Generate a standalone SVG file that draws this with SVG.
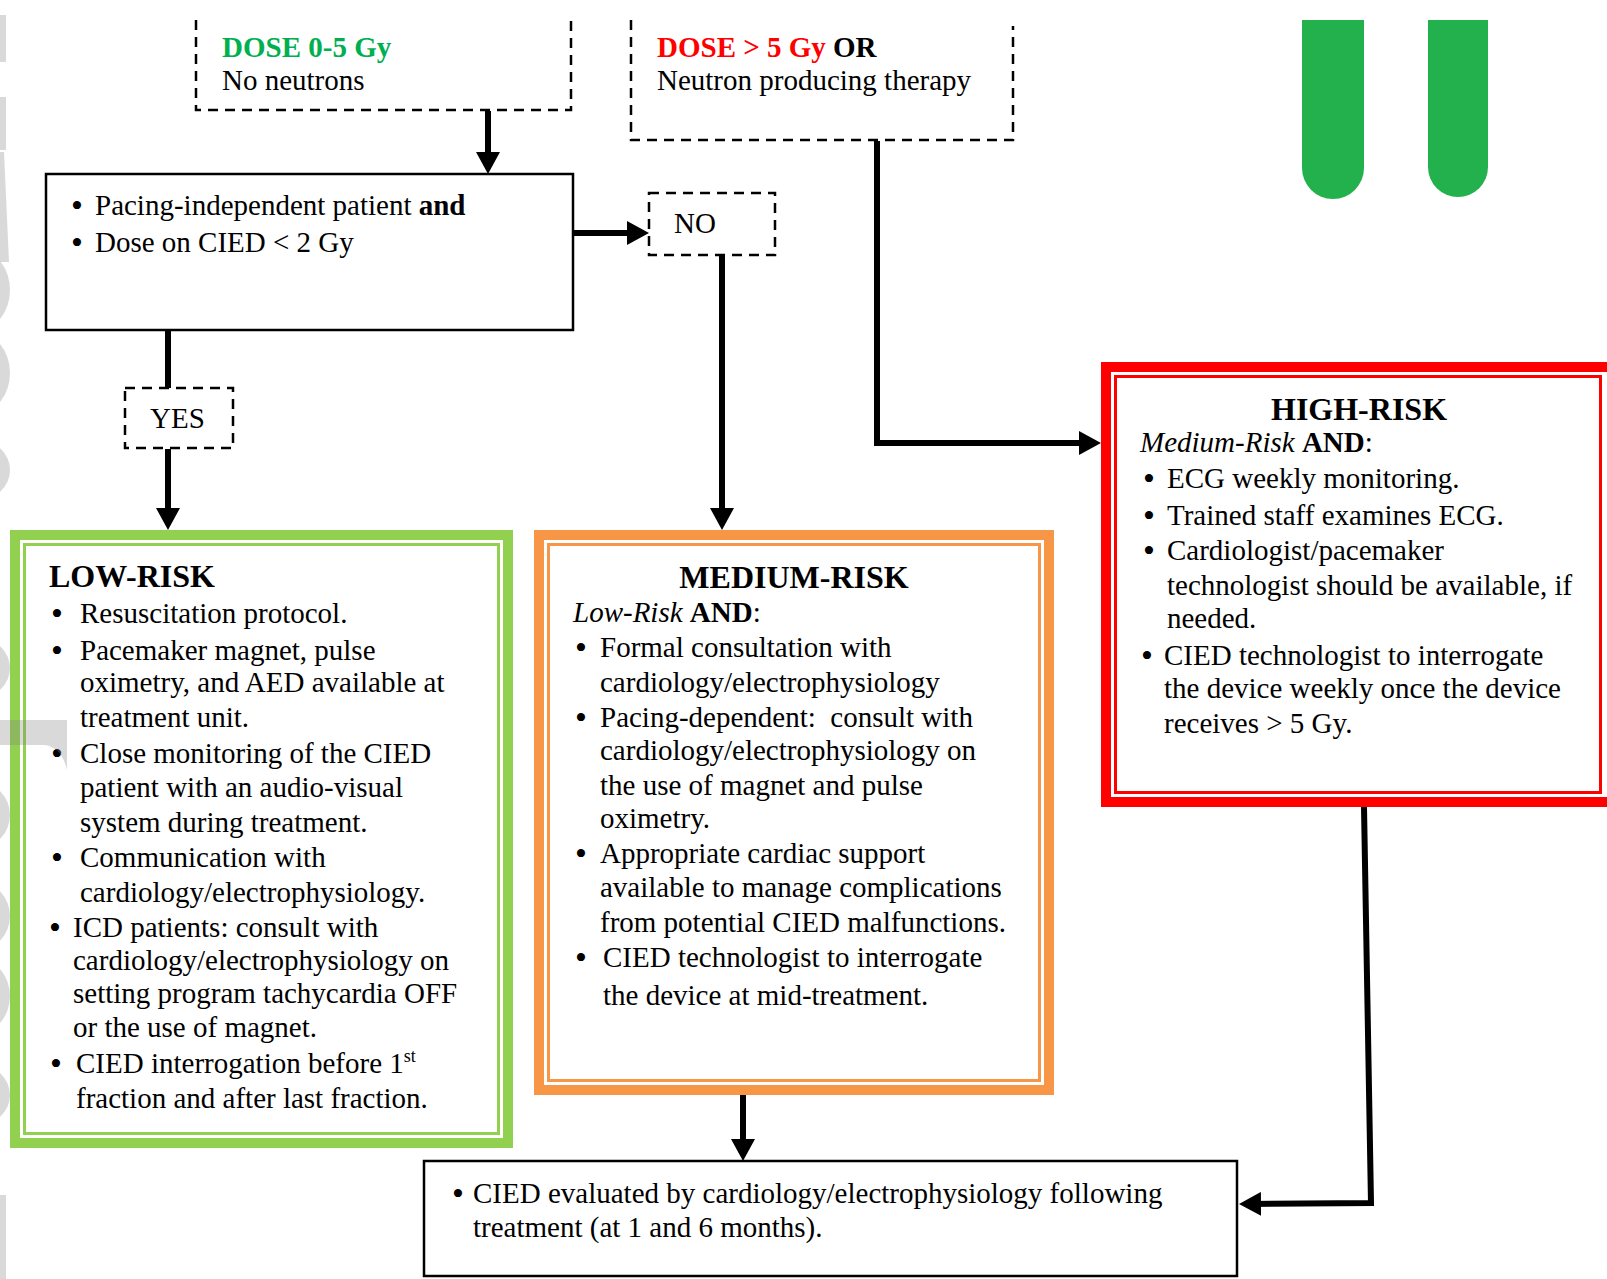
<svg xmlns="http://www.w3.org/2000/svg" width="1607" height="1279" viewBox="0 0 1607 1279">
<style>
.t{font-family:"Liberation Serif","Times New Roman",serif;font-size:29px;fill:#000}
.h{font-weight:bold;font-size:32px}
.b{font-weight:bold}
.i{font-style:italic}
.bu{font-size:34px}
.dash{fill:#fff;stroke:#000;stroke-width:2.5;stroke-dasharray:10 7}
.box{fill:#fff;stroke:#000;stroke-width:2.5}
.conn{fill:none;stroke:#000;stroke-width:6;stroke-linejoin:miter}
.wm{fill:#808080;fill-opacity:0.3}
</style>
<defs>
<marker id="ah" viewBox="0 0 22 24" markerWidth="22" markerHeight="24" markerUnits="userSpaceOnUse" refX="12" refY="12" orient="auto">
<path d="M0,0 L22,12 L0,24 Z" fill="#000"/>
</marker>
</defs>
<rect x="0" y="0" width="1607" height="1279" fill="#fff"/>

<g id="logo">
<path d="M1302,20 H1364 V168 A31,31 0 0 1 1302,168 Z" fill="#22b14c"/>
<path d="M1428,20 H1488 V167 A30,30 0 0 1 1428,167 Z" fill="#22b14c"/>
</g>

<g id="dose-low">
<path class="dash" d="M196,20 V110 H571 V20"/>
<text class="t b" x="222" y="57" style="fill:#00b050">DOSE 0-5 Gy</text>
<text class="t" x="222" y="90">No neutrons</text>
</g>

<g id="dose-high">
<path class="dash" d="M631,20 V140 H1013 V26"/>
<text class="t b" x="657" y="57"><tspan style="fill:#ff0000">DOSE &gt; 5 Gy</tspan> OR</text>
<text class="t" x="657" y="90">Neutron producing therapy</text>
</g>

<g id="criteria">
<rect class="box" x="46" y="174" width="527" height="156"/>
<text class="t bu" x="71" y="217">•</text>
<text class="t" x="95" y="215">Pacing-independent patient <tspan class="b">and</tspan></text>
<text class="t bu" x="71" y="254">•</text>
<text class="t" x="95" y="252">Dose on CIED &lt; 2 Gy</text>
</g>

<g id="no">
<rect class="dash" x="649" y="193" width="126" height="62"/>
<text class="t" x="674" y="233">NO</text>
</g>

<g id="yes">
<rect class="dash" x="125" y="388" width="108" height="60"/>
<text class="t" x="150" y="428">YES</text>
</g>

<g id="low-risk">
<rect x="15" y="535" width="493" height="608" fill="#fff" stroke="#92d050" stroke-width="10"/>
<rect x="24.5" y="544.5" width="474" height="589" fill="none" stroke="#92d050" stroke-width="3"/>
<text class="t h" x="49" y="587">LOW-RISK</text>
<text class="t bu" x="51" y="625">•</text>
<text class="t" x="80" y="623">Resuscitation protocol.</text>
<text class="t bu" x="51" y="662">•</text>
<text class="t" x="80" y="660">Pacemaker magnet, pulse</text>
<text class="t" x="80" y="692">oximetry, and AED available at</text>
<text class="t" x="80" y="727">treatment unit.</text>
<text class="t bu" x="51" y="765">•</text>
<text class="t" x="80" y="763">Close monitoring of the CIED</text>
<text class="t" x="80" y="797">patient with an audio-visual</text>
<text class="t" x="80" y="832">system during treatment.</text>
<text class="t bu" x="51" y="869">•</text>
<text class="t" x="80" y="867">Communication with</text>
<text class="t" x="80" y="902">cardiology/electrophysiology.</text>
<text class="t bu" x="49" y="939">•</text>
<text class="t" x="73" y="937">ICD patients: consult with</text>
<text class="t" x="73" y="970">cardiology/electrophysiology on</text>
<text class="t" x="73" y="1003">setting program tachycardia OFF</text>
<text class="t" x="73" y="1037">or the use of magnet.</text>
<text class="t bu" x="50" y="1075">•</text>
<text class="t" x="76" y="1073">CIED interrogation before 1<tspan font-size="18" dy="-11">st</tspan></text>
<text class="t" x="76" y="1108">fraction and after last fraction.</text>
</g>

<g id="medium-risk">
<rect x="539" y="535" width="510" height="555" fill="#fff" stroke="#f79646" stroke-width="10"/>
<rect x="548.5" y="544.5" width="491" height="536" fill="none" stroke="#f79646" stroke-width="3"/>
<text class="t h" x="794" y="588" text-anchor="middle">MEDIUM-RISK</text>
<text class="t" x="573" y="622"><tspan class="i">Low-Risk</tspan> <tspan class="b">AND</tspan>:</text>
<text class="t bu" x="575" y="659">•</text>
<text class="t" x="600" y="657">Formal consultation with</text>
<text class="t" x="600" y="692">cardiology/electrophysiology</text>
<text class="t bu" x="575" y="729">•</text>
<text class="t" x="600" y="727">Pacing-dependent:&#160; consult with</text>
<text class="t" x="600" y="760">cardiology/electrophysiology on</text>
<text class="t" x="600" y="795">the use of magnet and pulse</text>
<text class="t" x="600" y="828">oximetry.</text>
<text class="t bu" x="575" y="865">•</text>
<text class="t" x="600" y="863">Appropriate cardiac support</text>
<text class="t" x="600" y="897">available to manage complications</text>
<text class="t" x="600" y="932">from potential CIED malfunctions.</text>
<text class="t bu" x="575" y="969">•</text>
<text class="t" x="603" y="967">CIED technologist to interrogate</text>
<text class="t" x="603" y="1005">the device at mid-treatment.</text>
</g>

<g id="high-risk">
<rect x="1106" y="367" width="510" height="435" fill="#fff" stroke="#ff0000" stroke-width="10"/>
<rect x="1115.5" y="376.5" width="485" height="416" fill="none" stroke="#ff0000" stroke-width="3"/>
<text class="t h" x="1359" y="420" text-anchor="middle">HIGH-RISK</text>
<text class="t" x="1140" y="452"><tspan class="i">Medium-Risk</tspan> <tspan class="b">AND</tspan>:</text>
<text class="t bu" x="1143" y="490">•</text>
<text class="t" x="1167" y="488">ECG weekly monitoring.</text>
<text class="t bu" x="1143" y="527">•</text>
<text class="t" x="1167" y="525">Trained staff examines ECG.</text>
<text class="t bu" x="1143" y="562">•</text>
<text class="t" x="1167" y="560">Cardiologist/pacemaker</text>
<text class="t" x="1167" y="595">technologist should be available, if</text>
<text class="t" x="1167" y="628">needed.</text>
<text class="t bu" x="1141" y="667">•</text>
<text class="t" x="1164" y="665">CIED technologist to interrogate</text>
<text class="t" x="1164" y="698">the device weekly once the device</text>
<text class="t" x="1164" y="733">receives &gt; 5 Gy.</text>
</g>

<g id="follow-up">
<rect class="box" x="424" y="1161" width="813" height="115"/>
<text class="t bu" x="452" y="1205">•</text>
<text class="t" x="473" y="1203">CIED evaluated by cardiology/electrophysiology following</text>
<text class="t" x="473" y="1237">treatment (at 1 and 6 months).</text>
</g>

<g id="connectors">
<path class="conn" d="M488,111 V164" marker-end="url(#ah)"/>
<path class="conn" d="M574,233 H639" marker-end="url(#ah)"/>
<path class="conn" d="M722,256 V520" marker-end="url(#ah)"/>
<path class="conn" d="M168,331 V388"/>
<path class="conn" d="M168,449 V520" marker-end="url(#ah)"/>
<path class="conn" d="M877,141 V443 H1091" marker-end="url(#ah)"/>
<path class="conn" d="M743,1095 V1151" marker-end="url(#ah)"/>
<path class="conn" d="M1364,807 L1371,1203 L1249,1204" marker-end="url(#ah)"/>
</g>

<g id="watermark">
<rect class="wm" x="0" y="15" width="6" height="47"/>
<rect class="wm" x="0" y="97" width="6" height="53"/>
<path class="wm" d="M0,152 L4,152 L9,262 L0,262 Z"/>
<ellipse class="wm" cx="-22" cy="290" rx="32" ry="40"/>
<ellipse class="wm" cx="-22" cy="373" rx="32" ry="40"/>
<ellipse class="wm" cx="-22" cy="470" rx="32" ry="30"/>
<ellipse class="wm" cx="-22" cy="668" rx="32" ry="30"/>
<path class="wm" d="M0,720 H67 V770 Q62,748 45,745 H0 Z"/>
<ellipse class="wm" cx="-22" cy="815" rx="32" ry="33"/>
<ellipse class="wm" cx="-22" cy="916" rx="32" ry="34"/>
<ellipse class="wm" cx="-22" cy="996" rx="32" ry="37"/>
<ellipse class="wm" cx="-22" cy="1095" rx="32" ry="30"/>
<rect class="wm" x="0" y="1195" width="6" height="84"/>
</g>
</svg>
